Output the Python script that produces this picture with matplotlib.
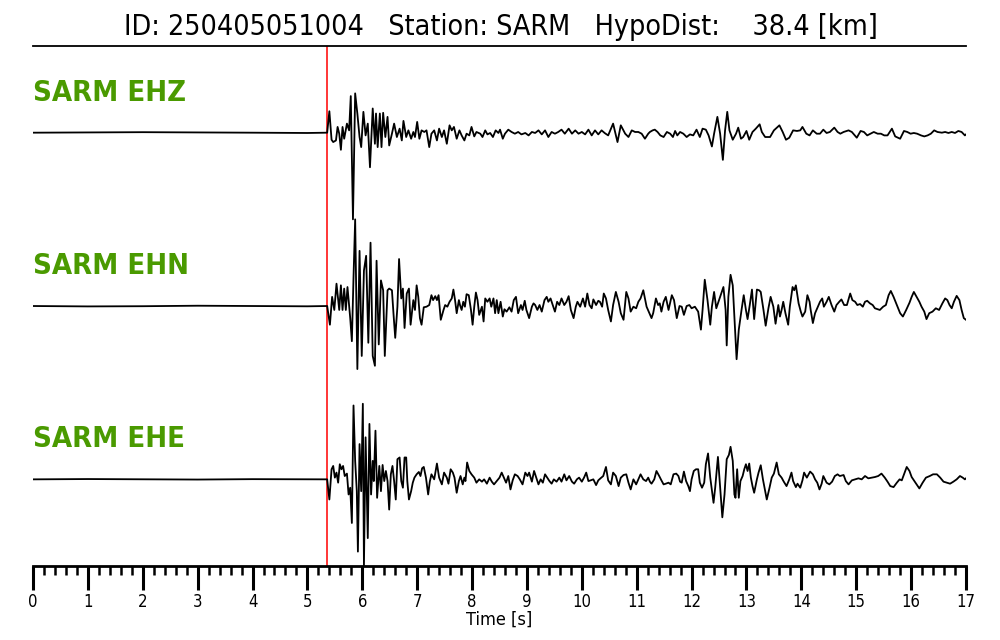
import matplotlib
matplotlib.use("Agg")
import matplotlib.pyplot as plt
import numpy as np
from matplotlib.ticker import MultipleLocator

# header / labels
event_id = "250405051004"
station = "SARM"
hypo_dist = 38.4
channels = ["EHZ", "EHN", "EHE"]
p_pick = 5.36  # s

# traces (time in s, amplitude in arbitrary units)
ehz_t = [0.0, 1.0, 2.0, 3.0, 4.0, 5.0, 5.36,
         5.40, 5.44, 5.47, 5.52, 5.55, 5.58, 5.61, 5.64, 5.67, 5.72, 5.76, 5.79, 5.83, 5.87,
         5.91, 5.95, 5.98, 6.02, 6.06, 6.10, 6.14, 6.19, 6.23, 6.25, 6.28, 6.32, 6.35, 6.38,
         6.42, 6.46, 6.49, 6.54, 6.58, 6.63, 6.68, 6.72, 6.75, 6.80, 6.84, 6.89, 6.93, 6.96,
         7.00, 7.04, 7.08, 7.13, 7.17, 7.22, 7.26, 7.31, 7.36, 7.40, 7.45, 7.49, 7.54, 7.59,
         7.63, 7.67, 7.72, 7.77, 7.81, 7.86, 7.90, 7.95, 7.99, 8.04, 8.08, 8.15, 8.19, 8.24,
         8.28, 8.33, 8.38, 8.43, 8.48, 8.51, 8.56, 8.60, 8.66, 8.72, 8.78, 8.84, 8.90, 8.97,
         9.03, 9.09, 9.15, 9.21, 9.27, 9.33, 9.39, 9.45, 9.51, 9.57, 9.63, 9.69, 9.76, 9.82,
         9.88, 9.94, 10.00, 10.06, 10.12, 10.18, 10.24, 10.30, 10.36, 10.42, 10.48, 10.57,
         10.65, 10.71, 10.79, 10.85, 10.91, 10.97, 11.03, 11.09, 11.15, 11.21,
         11.24, 11.29, 11.33, 11.38, 11.43, 11.49, 11.55, 11.61, 11.66, 11.70, 11.74, 11.79,
         11.85, 11.91, 11.97, 12.03, 12.09, 12.15, 12.20, 12.26, 12.31, 12.37, 12.41, 12.47,
         12.52, 12.57, 12.61, 12.65, 12.69, 12.75, 12.81, 12.85, 12.90, 12.94, 13.00, 13.05,
         13.11, 13.17, 13.24, 13.28, 13.34, 13.43, 13.50, 13.60, 13.66, 13.72, 13.78, 13.85,
         13.92, 13.98, 14.02, 14.09, 14.15, 14.21, 14.28, 14.34, 14.40, 14.46, 14.52, 14.60,
         14.66, 14.71, 14.77, 14.86, 14.92, 15.01, 15.08, 15.14, 15.20, 15.26, 15.32, 15.39,
         15.45, 15.51, 15.57, 15.65, 15.71, 15.80, 15.87, 15.93, 15.99, 16.05, 16.11, 16.18,
         16.24, 16.30, 16.36, 16.42, 16.48, 16.56, 16.62, 16.68, 16.74, 16.80, 16.86, 16.92,
         16.98, 17.00]
ehz_a = [0, 0.3, 0.5, 0.3, 0, -0.3, 0,
         21.3, -7, -9.3, -7.7, 5.7, -1, -17, 5.7, -6, 9, 2.3, 36.3, -86, 39,
         19, -4.3, -14.3, 20.7, -2.7, 9, -34.3, 24, -11, 19, -14.3, 19, -14.3, 19.7,
         -4.3, 15.7, -12.7, -1, 9, -4.3, 4, -7.7, 11.7, -4.3, 2.3, -6, 0.7, -4.3,
         10.7, -6, 2.3, 0.7, 2.3, -14.3, -1, 2.3, -7.7, 4, -4.3, 2.3, -11, 7.3,
         2.3, 5.7, -6, 2.3, -2.7, -7.7, -1, -2.7, 5.7, -3.7, 0.7, -1, -4.3, 2.3,
         -1.7, -0.3, -4.3, 2.3, -0.3, 3, -6, -1, 3, 0.7, -1, 0.7, -1.7, -0.3,
         -2.7, 0.7, -0.3, 2.3, -1.7, 2.3, -4.3, 0.7, -1, 0.7, 3, -1, 4, -1,
         2.3, -1, 0.7, -1.7, 3, -2.7, 2.3, -1.7, 2.3, -0.5, -2.7, 9,
         -9.3, 7.3, -1, -4.3, 2.3, 0.7, 0.7, -1, -6, -1,
         0.7, 2.3, 3, 0.7, -2.7, -4.3, 0.7, -1, -4.3, 1.7, -2.7, 0.7,
         -1, -4.3, -1.7, -2.7, 3, -4.3, 4, 3, -2.7, -13.7, -1, 15.7,
         -1, -27, 2.3, 20.7, 2.3, -7, -1, 5, -6, -4.3, 1.7, -7,
         0.7, 4, 8.3, 0.7, -4.3, -4.3, 2.3, 7.3, 0.7, -7, -5, 2.3,
         1.7, 2.3, 5.7, -1, -2.7, 2.3, -1, -1, 3, -0.3, 0.7, 5,
         0.7, -1, 0.7, 2.3, 0.7, -5, 1.7, 0.7, -2.7, -1, 0.7, -1,
         -1, -2.7, -2.7, 4, -3.7, -6, 1.7, 0.7, -1, -0.3, -1, -2.7,
         -3.7, -2.7, -1, 2.3, 0.7, 0, 0.7, -0.3, 0.7, -0.3, 1.7, 0.7,
         -2.7, -1.7]

ehn_t = [0.0, 1.0, 2.0, 3.0, 4.0, 5.0, 5.36,
         5.41, 5.45, 5.49, 5.53, 5.58, 5.61, 5.64, 5.67, 5.70, 5.73, 5.78, 5.81, 5.84, 5.87,
         5.91, 5.95, 5.99, 6.03, 6.07, 6.11, 6.15, 6.19, 6.23, 6.26, 6.30, 6.34, 6.38, 6.41,
         6.46, 6.49, 6.54, 6.57, 6.60, 6.64, 6.67, 6.71, 6.74, 6.77, 6.81, 6.85, 6.88, 6.93,
         6.96, 6.99, 7.02, 7.05, 7.08, 7.12, 7.17, 7.22, 7.26, 7.29, 7.33, 7.36, 7.39, 7.43,
         7.48, 7.51, 7.55, 7.59, 7.63, 7.66, 7.69, 7.72, 7.76, 7.78, 7.81, 7.84, 7.87, 7.90,
         7.94, 7.98, 8.01, 8.04, 8.07, 8.10, 8.13, 8.18, 8.21, 8.24, 8.28, 8.32, 8.35, 8.39,
         8.42, 8.45, 8.48, 8.52, 8.56, 8.59, 8.63, 8.68, 8.72, 8.76, 8.80, 8.84, 8.89, 8.92,
         8.96, 8.99, 9.04, 9.09, 9.12, 9.15, 9.19, 9.23, 9.27, 9.32, 9.36, 9.39, 9.43, 9.47,
         9.51, 9.55, 9.59, 9.63, 9.68, 9.72, 9.76, 9.80, 9.85, 9.89, 9.92, 9.97, 10.02, 10.06,
         10.10, 10.14, 10.18, 10.21, 10.26, 10.30, 10.33, 10.37, 10.40, 10.44, 10.48, 10.53,
         10.57, 10.62, 10.67, 10.71, 10.76, 10.81, 10.85, 10.89, 10.94, 10.99, 11.03, 11.07,
         11.12, 11.18, 11.23,
         11.27, 11.30, 11.35, 11.39, 11.42, 11.45, 11.49, 11.53, 11.58, 11.64, 11.68, 11.73,
         11.78, 11.82, 11.86, 11.91, 11.96, 12.00, 12.06, 12.12, 12.17, 12.20, 12.24, 12.29,
         12.34, 12.37, 12.41, 12.45, 12.49, 12.53, 12.58, 12.62, 12.64, 12.67, 12.71, 12.75,
         12.79, 12.82, 12.86, 12.91, 12.95, 12.99, 13.02, 13.06, 13.10, 13.14, 13.19, 13.23,
         13.26, 13.31, 13.35, 13.40, 13.44, 13.49, 13.53, 13.58, 13.61, 13.64, 13.67, 13.71,
         13.76, 13.79, 13.84, 13.87, 13.90, 13.95, 13.99, 14.02, 14.07, 14.11, 14.15, 14.17,
         14.21, 14.25, 14.30, 14.34, 14.38, 14.41, 14.46, 14.50, 14.55, 14.60, 14.64, 14.69,
         14.73, 14.78, 14.83, 14.89, 14.93, 14.98, 15.02, 15.07, 15.12, 15.16, 15.20, 15.25,
         15.30, 15.34, 15.39, 15.43, 15.49, 15.54, 15.59, 15.63, 15.68, 15.74, 15.80, 15.85,
         15.91, 15.97, 16.01, 16.05, 16.10, 16.15, 16.19, 16.24, 16.28, 16.33, 16.39, 16.45,
         16.51, 16.57, 16.62, 16.66, 16.70, 16.74, 16.78, 16.83, 16.88, 16.92, 16.96, 17.00]
ehn_a = [0, -0.4, -0.2, 0.3, 0, -0.3, 0,
         -19, 9.3, -4, 22.7, -4, 21, -4, 17.7, -4, 19.3, -12.3, -35.7, 29, 88,
         -64, 56, -50.7, 36, 51, -37.3, 64.3, -50.7, -60.7, 46, -39, 26, 16, -50.7,
         16, 17.7, 16, -9, -32.3, -0.7, 47.7, 7.7, 17.7, -22.3, 12.7, 17.7, -19, 6,
         -4, 21, 9.3, -12.3, -19, -1.3, -0.7, 1, 11, 6, 10, 6, 11, -14,
         -4, 1, -0.7, 4.3, 7.7, 16.7, 6, -7.3, 6, 1, -4, 4.3, -0.7, 12,
         11, -4, -19, -0.7, 13.7, 6, -9, -0.7, -15.7, 7.7, 4.3, 7.7, -0.7, 7.7,
         -7.3, 6, -7.3, 4.3, -10.7, -3.3, -5.7, -1.3, -5.7, 6, 9.3, -7.3, 1, -4,
         5.3, -4, -12.3, -0.7, 2.7, 1, -4, 1, -5.7, 6, 9.3, 4.3, 7.7, 1,
         -5.7, 4.3, 1, 7.7, 1, 4.3, 10, -4, -12.3, -0.7, 4.3, -0.7, 7.7, -0.7,
         12.7, 1, -2.3, 6.7, 1, 5.3, 4.3, -0.7, 12.7, 7.7, -4, -15.7,
         1, 14.3, 4.3, -7.3, -14, 14.3, 7.7, -5.7, -0.7, -2.3, 4.3, 7.7,
         16, -0.7, -7.3,
         -12.3, -7.3, 7.7, 1, 2.7, -5.7, 4.3, 9.3, -4, 11, 6, -12.3,
         0, -0.7, -9, 0, 1, -2.3, -0.7, -5.7, -24, -4, 26.7, 6,
         -19, -0.7, 14.3, -2.3, 4.3, 11, 19.3, -4, -40, 9.3, 31.7, 21,
         -20.7, -54, -24, -4, 11, -4, -13.3, 1, 16.7, -13.3, 16.7, 16,
         14.3, -4, -20, -2.3, 9.3, -0.7, -18, 1, -10.7, -4, 4.3, -7.3,
         -19, -0.7, 19.3, 16, 21, 2.7, -5.7, -10.7, -5.7, 11, 4.3, -4,
         -17.3, -7.3, -0.7, 4.3, 7.7, -0.7, 4.3, 9.3, 1, -5.7, 1, 4.3,
         6.7, 1, 1, 12.7, 6, 4.3, 1, 2, -0.7, 4.3, 5.3, 2.7,
         1, -2.3, -3.3, -4, -0.7, 1, 11, 15.3, 9.3, 1, -7.3, -10.7,
         -4, 3.3, 9.3, 14.3, 9.3, 4.3, -0.7, -5.7, -13.3, -7.3, -5.7, -2.3,
         -4, 2.7, 7.7, 6, 1, -2.3, 4.3, 10.3, 6, -4, -12.3, -14]

ehe_t = [0.0, 1.0, 2.0, 3.0, 4.0, 5.0, 5.36,
         5.40, 5.44, 5.47, 5.50, 5.53, 5.56, 5.59, 5.62, 5.65, 5.68, 5.72, 5.75, 5.78, 5.81,
         5.84, 5.87, 5.90, 5.92, 5.95, 5.98, 6.01, 6.03, 6.06, 6.10, 6.13, 6.16, 6.19, 6.21,
         6.24, 6.27, 6.31, 6.34, 6.37, 6.40, 6.43, 6.46, 6.49, 6.52, 6.55, 6.58, 6.61, 6.64,
         6.68, 6.71, 6.74, 6.77, 6.80, 6.82, 6.85, 6.89, 6.92, 6.95, 6.99, 7.03, 7.06, 7.09,
         7.12, 7.16, 7.20, 7.23, 7.26, 7.31, 7.36, 7.40, 7.45, 7.49, 7.54, 7.57, 7.61, 7.65,
         7.68, 7.72, 7.76, 7.79, 7.83, 7.86, 7.88, 7.91, 7.95, 7.99, 8.04, 8.08, 8.13, 8.18,
         8.22, 8.27, 8.32, 8.36, 8.40, 8.45, 8.50, 8.54, 8.58, 8.62, 8.66, 8.70, 8.74, 8.78,
         8.83, 8.87, 8.92, 8.97, 9.01, 9.04, 9.09, 9.13, 9.17, 9.21, 9.25, 9.29, 9.33, 9.37,
         9.41, 9.45, 9.49, 9.54, 9.59, 9.63, 9.68, 9.72, 9.77, 9.82, 9.86, 9.91, 9.95, 10.00,
         10.04, 10.08, 10.12, 10.16, 10.21, 10.26, 10.30, 10.34, 10.39, 10.44, 10.48, 10.53,
         10.57, 10.62, 10.67, 10.71, 10.76, 10.81, 10.85, 10.89, 10.94, 10.99, 11.03, 11.07,
         11.12, 11.17, 11.21,
         11.24, 11.27, 11.32, 11.36, 11.41, 11.45, 11.49, 11.53, 11.58, 11.62, 11.67, 11.72,
         11.76, 11.79, 11.82, 11.86, 11.90, 11.94, 11.97, 12.00, 12.04, 12.08, 12.12, 12.15,
         12.19, 12.23, 12.26, 12.30, 12.34, 12.40, 12.43, 12.48, 12.52, 12.56, 12.60, 12.64,
         12.68, 12.71, 12.75, 12.78, 12.80, 12.83, 12.86, 12.89, 12.93, 12.96, 12.99, 13.02,
         13.05, 13.08, 13.11, 13.14, 13.19, 13.22, 13.26, 13.30, 13.34, 13.37, 13.42, 13.46,
         13.50, 13.55, 13.59, 13.64, 13.68, 13.73, 13.78, 13.82, 13.85, 13.90, 13.93, 13.98,
         14.02, 14.05, 14.10, 14.16, 14.21, 14.25, 14.29, 14.33, 14.37, 14.40, 14.46, 14.51,
         14.56, 14.61, 14.66, 14.70, 14.77, 14.81, 14.86, 14.92, 14.98, 15.04, 15.10, 15.16,
         15.22, 15.28, 15.34, 15.40, 15.46, 15.52, 15.57, 15.62, 15.68, 15.74, 15.79, 15.83,
         15.87, 15.92, 15.97, 16.01, 16.05, 16.10, 16.15, 16.21, 16.27, 16.34, 16.40, 16.47,
         16.53, 16.59, 16.65, 16.71, 16.77, 16.83, 16.89, 16.94, 16.98, 17.00]
ehe_a = [0, 0.3, 0.1, -0.2, 0.2, 0, 0,
         -20, 10, 13.3, 1.7, 6.7, -3.3, 15, 10, 13.3, 3.3, 5.7, -15, -8.3, -43.3,
         73.3, 18.3, -11.7, -71.7, 35, -11.7, 75, -86, 41.7, -58.3, 55, -15, 18.3, -1.7,
         48.3, -18.3, 13.3, -11.7, 14.3, -1.7, 8.3, -1.7, -30, 5, 13.3, -1.7, -20, 20,
         21.7, -1.7, -8.3, 21.7, 21.7, -1.7, -20, -11.7, -3.3, 1.7, 5, 7.3, 3.3, 11,
         12.3, 1.7, -15, -2.3, 5, 0, 15.7, 1.7, -5, 6.7, 1.7, -4.3, 10, 6.7,
         1.7, -13.3, -1.7, 3.3, -5, 1.7, -1.7, 16.7, 8.3, 5, 1.7, -3.3, 0, -2.3,
         0, -4.3, 1.7, -2.3, -5, -1.7, 1.7, 6.7, 1.7, -3.3, 3.3, -10, -1, 5,
         3.3, 0, -5, 6.7, 3.3, 6.7, -2.3, 8.3, 1.7, -5, 0, -3.3, 5, 1.7,
         -1.7, -4.3, 0, -2.3, 1.7, -2.3, 5, -1, 3.3, -2.3, -4.3, 0, 1.7, -2.3,
         1.7, 6.7, -1.7, -1, 0, -5.7, -1, 1, 3.3, 12.3, -1, -5,
         6.7, 3.3, -6.7, 1.7, 4.3, 5, -3.3, -10, 0, -5, 0, 5,
         0, -1.7, 1.7,
         -2.3, -4.3, 0, 8.3, 3.3, -1, -5, -4.3, -3.3, -5, 5, 5.7,
         3.3, -2.3, -3.3, 7.7, -1.7, -6.7, -11.7, 0, 8.3, 10, 10, -3.3,
         -8.3, -3.3, 15, 25.7, 1.7, -23.3, -8.3, 22.3, -8.3, -37.7, -15, 20,
         24.3, 32.3, 18.3, -15, -18.3, 10, -18.3, -1.7, 3.3, 10, 15, 8.3,
         15.7, 1.7, -6.7, -13.3, 0, 6.7, 14, 0, -11.7, -20, -8.3, 1.7,
         5.7, 16.7, 5, 1.7, -2.3, -6.7, 0, 6.7, -1.7, -7.7, -4.3, -8.3,
         -1, 6.7, 1.7, 7.7, 5, 0, -3.3, -10, -4.3, 3.3, -3.3, -5,
         -2.3, 3.3, 5, 3.3, 4.3, -1.7, -5, -1, 0, 1, 0, 3.3,
         1, 1.7, 2.3, 3.3, 5.7, 1.7, -2.3, -6.7, -7.7, -3.3, 0, -1,
         5, 12.3, 8.3, 2.3, -1, -5, -9, -3.3, 1.7, 3.3, 5, 5,
         1.7, -2.3, -3.3, -4.3, -2.3, 0, 3.3, 1.7, 0, 1]

traces = [(ehz_t, ehz_a), (ehn_t, ehn_a), (ehe_t, ehe_a)]

green = "#4a9a00"
cond = dict(fontstretch="condensed")

fig = plt.figure(figsize=(10, 6.4), dpi=100)
ax = fig.add_axes([0.033, 0.1156, 0.933, 0.8125])

for i, (t, a) in enumerate(traces):
    offset = len(traces) - 1 - i
    a = np.asarray(a, dtype=float)
    y = offset + 0.5 * a / np.abs(a).max()
    ax.plot(t, y, color="black", lw=1.3, zorder=3)
    ax.text(0, offset + 0.23, f"{station} {channels[i]}", color=green,
            fontsize=21, fontweight="bold", ha="left", va="center", **cond)

ax.axvline(p_pick, color="red", lw=1.1, zorder=2)

ax.set_xlim(0, 17)
ax.set_ylim(-0.5, 2.5)
ax.spines["left"].set_visible(False)
ax.spines["right"].set_visible(False)
ax.spines["top"].set_linewidth(1.3)
ax.spines["bottom"].set_linewidth(2.0)
ax.set_yticks([])
ax.xaxis.set_major_locator(MultipleLocator(1))
ax.xaxis.set_minor_locator(MultipleLocator(0.2))
ax.tick_params(axis="x", which="major", length=17, width=2.2, labelsize=12, pad=2.5)
ax.tick_params(axis="x", which="minor", length=6.5, width=1.8)
for lbl in ax.get_xticklabels():
    lbl.set_fontstretch("condensed")
ax.set_xlabel("Time [s]", fontsize=13, labelpad=-0.5, **cond)

fig.text(0.501, 0.958,
         f"ID: {event_id}   Station: {station}   HypoDist:    {hypo_dist:.1f} [km]",
         ha="center", va="center", fontsize=20.5, **cond)

fig.savefig("out.png", dpi=100)
